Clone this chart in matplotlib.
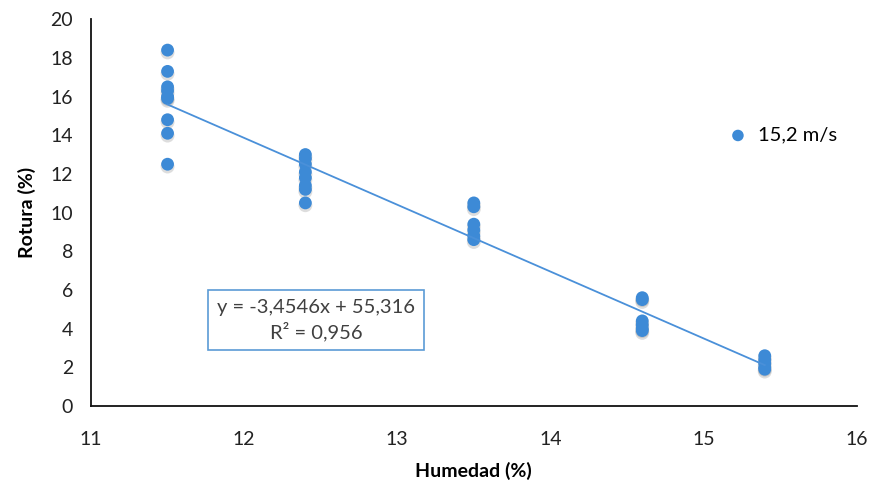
import matplotlib

matplotlib.use("Agg")
import matplotlib.pyplot as plt
import numpy as np

plt.rcParams["font.family"] = ["Lato", "DejaVu Sans"]

# Humidity levels (%) and measured breakage (%) at 15,2 m/s
hum_115 = [11.5] * 9
rot_115 = [18.4, 17.3, 16.5, 16.3, 16.0, 15.9, 14.8, 14.1, 12.5]
hum_124 = [12.4] * 8
rot_124 = [13.0, 12.8, 12.5, 12.1, 11.8, 11.4, 11.2, 10.5]
hum_135 = [13.5] * 6
rot_135 = [10.5, 10.3, 9.4, 9.1, 8.8, 8.6]
hum_146 = [14.6] * 6
rot_146 = [5.6, 5.5, 4.4, 4.2, 4.0, 3.9]
hum_154 = [15.4] * 5
rot_154 = [2.6, 2.4, 2.2, 2.0, 1.9]

slope = -3.4546
intercept = 55.316
r2 = 0.956

x = np.array(hum_115 + hum_124 + hum_135 + hum_146 + hum_154)
y = np.array(rot_115 + rot_124 + rot_135 + rot_146 + rot_154)

blue = "#3d8ad6"

fig = plt.figure(figsize=(8.75, 4.86), dpi=100)
ax = fig.add_axes([0.104, 0.1646, 0.875, 0.796])

# soft drop shadow under the markers
ax.scatter(x, y - 0.12, s=100, color="#444444", alpha=0.18,
           edgecolors="none", zorder=2)
ax.scatter(x, y, s=85, color=blue, edgecolors="none", zorder=3,
           label="15,2 m/s")

# linear trend line over the measured range
xt = np.array([x.min(), x.max()])
ax.plot(xt, slope * xt + intercept, color="#4a90d9", linewidth=1.3, zorder=4)

ax.text(12.47, 4.44,
        f"y = {slope:.4f}x + {intercept:.3f}\nR² = {r2:.3f}".replace(".", ","),
        ha="center", va="center", fontsize=14.5, color="#404040",
        linespacing=1.3, zorder=5,
        bbox=dict(boxstyle="square,pad=0.45", fc="white", ec="#5b9bd5", lw=1.2))

ax.set_xlim(11, 16)
ax.set_ylim(0, 20)
ax.set_xticks(range(11, 17))
ax.set_yticks(range(0, 21, 2))
ax.tick_params(axis="x", length=0, labelsize=14, colors="#222222", pad=18)
ax.tick_params(axis="y", length=0, labelsize=14, colors="#222222", pad=13)
for side in ("top", "right"):
    ax.spines[side].set_visible(False)
for side in ("left", "bottom"):
    ax.spines[side].set_linewidth(1.3)
    ax.spines[side].set_color("#111111")

ax.set_xlabel("Humedad (%)", fontsize=14, fontweight="bold", labelpad=10)
ax.set_ylabel("Rotura (%)", fontsize=14, fontweight="bold", labelpad=10)

ax.legend(loc="center left", bbox_to_anchor=(0.795, 0.70), frameon=False,
          fontsize=14.5, handletextpad=0.0, markerscale=0.9)

fig.savefig("out.png", dpi=100)
